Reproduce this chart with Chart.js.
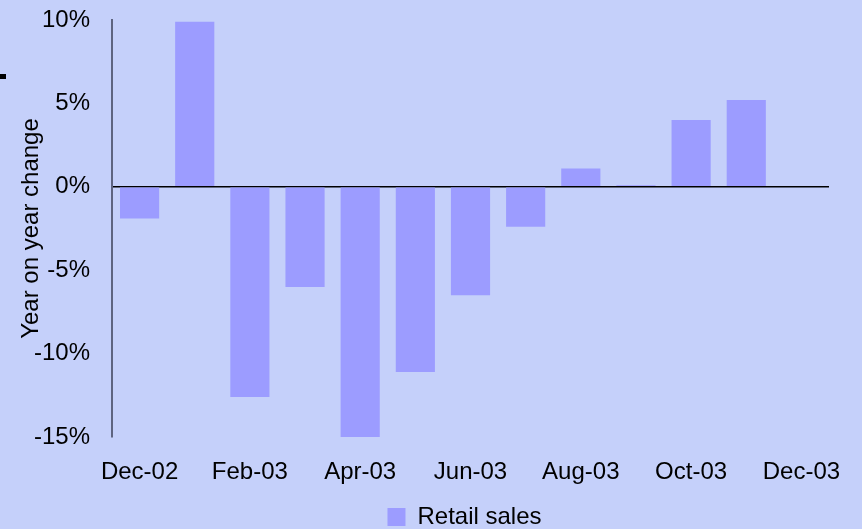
<!DOCTYPE html>
<html lang="en">
<head>
<meta charset="UTF-8">
<script src="https://cdn.jsdelivr.net/npm/chart.js"></script>
<title>Retail sales</title>
<style>
  html, body { margin: 0; background: #C5D0FA; overflow: hidden; }
  #wrap { width: 862px; height: 529px; overflow: hidden; }
</style>
</head>
<body>
<div id="wrap"><canvas id="myChart" width="862" height="539"></canvas></div>
<script>
    // dados do grafico
    const meses = ['Dec-02', 'Jan-03', 'Feb-03', 'Mar-03', 'Apr-03', 'May-03', 'Jun-03',
        'Jul-03', 'Aug-03', 'Sep-03', 'Oct-03', 'Nov-03', 'Dec-03'];
    const vendas = [-1.9, 9.9, -12.6, -6.0, -15.2, -11.1, -6.5, -2.4, 1.1, 0.1, 4.0, 5.2, null];
    const ticksY = [-15, -10, -5, 0, 5, 10];

    Chart.defaults.font.family = "'Liberation Sans', Arial, sans-serif";
    Chart.defaults.font.size = 24;
    Chart.defaults.color = '#000000';

    // fundo azul claro + pequena marca preta a esquerda
    const fundo = {
        id: 'fundo',
        afterLayout(chart) {
            // legenda centrada um pouco mais a direita, como no original
            chart.legend.left += 50;
            chart.legend.right += 50;
        },
        beforeDraw(chart) {
            const ctx = chart.ctx;
            ctx.save();
            ctx.fillStyle = '#C5D0FA';
            ctx.fillRect(0, 0, chart.width, chart.height);
            ctx.restore();
        },
        afterDraw(chart) {
            const ctx = chart.ctx;
            ctx.save();
            ctx.fillStyle = '#000000';
            ctx.fillRect(0, 74, 6, 5);
            ctx.restore();
        }
    };

    const config = {
        type: 'bar',
        data: {
            labels: meses,
            datasets: [{
                label: 'Retail sales',
                data: vendas,
                backgroundColor: '#9C9CFF',
                borderWidth: 0,
                categoryPercentage: 1,
                barPercentage: 0.71
            }]
        },
        options: {
            responsive: false,
            animation: false,
            layout: { autoPadding: false, padding: { top: 20, right: 33, left: 0, bottom: 0 } },
            plugins: {
                tooltip: { enabled: false },
                legend: {
                    position: 'bottom',
                    labels: {
                        boxWidth: 18,
                        boxHeight: 18,
                        padding: 6
                    }
                }
            },
            scales: {
                x: {
                    afterFit: function (s) { s.height = 62; s.paddingLeft = 0; s.paddingRight = 0; },
                    grid: { display: false },
                    border: { display: false },
                    ticks: {
                        autoSkip: false,
                        maxRotation: 0,
                        padding: 13,
                        callback: function (v, i) { return i % 2 == 0 ? meses[i] : ''; }
                    }
                },
                y: {
                    min: -15,
                    max: 10,
                    afterFit: function (s) { s.width = 112; s.paddingTop = 0; s.paddingBottom = 0; },
                    afterBuildTicks: function (s) { s.ticks = ticksY.map(v => ({ value: v })); },
                    border: { display: true, color: '#5E6480', width: 2 },
                    grid: {
                        drawTicks: false,
                        color: ctx => ctx.tick && ctx.tick.value == 0 ? '#000000' : 'rgba(0,0,0,0)',
                        lineWidth: 1.5
                    },
                    title: {
                        display: true,
                        text: 'Year on year change',
                        padding: { top: 17, bottom: 0 }
                    },
                    ticks: {
                        padding: 22,
                        callback: v => v + '%'
                    }
                }
            }
        },
        plugins: [fundo]
    };

    let myChart = new Chart(document.getElementById('myChart'), config);
</script>
</body>
</html>
